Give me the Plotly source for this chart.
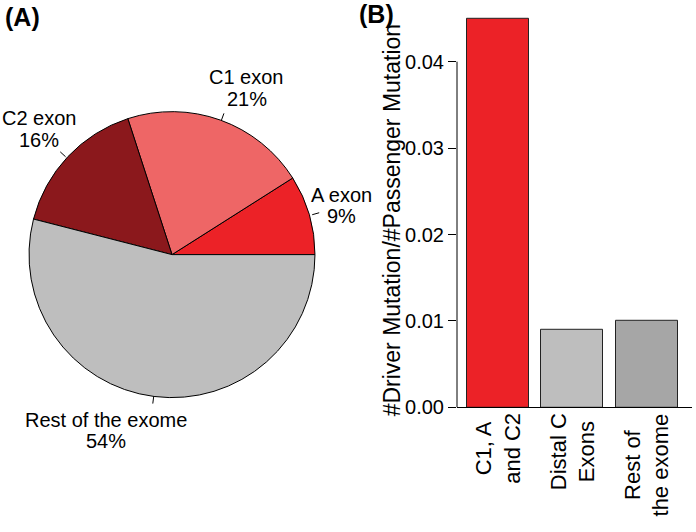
import math
import plotly.graph_objects as go

# ---------------- data ----------------
pie_labels = ["A exon", "C1 exon", "C2 exon", "Rest of the exome"]
pie_values = [9, 21, 16, 54]
pie_colors = ["#EC2227", "#EE6666", "#8B181C", "#BEBEBE"]

bar_categories = ["C1, A<br>and C2", "Distal C<br>Exons", "Rest of<br>the exome"]
bar_values = [0.045, 0.009, 0.010]
bar_colors = ["#EC2227", "#BEBEBE", "#A6A6A6"]

y_ticks = [0.00, 0.01, 0.02, 0.03, 0.04]
y_title = "#Driver Mutation/#Passenger Mutation"
panel_labels = ["(A)", "(B)"]

# ---------------- layout helpers ----------------
W, H = 696, 532
FONT = "Liberation Sans, Arial, Helvetica, sans-serif"


def px(x):
    return x / W


def py(y):
    return 1 - y / H


PIE_CX, PIE_CY, PIE_R = 172, 260, 146
# label block centres (pixels) for each pie slice
pie_label_pos = [(341, 210), (246.5, 90), (39, 131.5), (106, 439.5)]
LINE_GAP = 22

BAR_X0, BAR_X1, BAR_Y0, BAR_Y1 = 457, 692, 10, 416

total = sum(pie_values)

fig = go.Figure()

fig.add_trace(go.Pie(
    labels=pie_labels,
    values=pie_values,
    marker=dict(colors=pie_colors, line=dict(color="black", width=1)),
    sort=False,
    direction="counterclockwise",
    # first slice starts at 3 o'clock and runs counter-clockwise
    rotation=90 - pie_values[0] / total * 360,
    textinfo="none",
    hoverinfo="skip",
    showlegend=False,
    domain=dict(x=[px(PIE_CX - PIE_R), px(PIE_CX + PIE_R)],
                y=[py(PIE_CY + PIE_R), py(PIE_CY - PIE_R)]),
))

fig.add_trace(go.Bar(
    x=bar_categories,
    y=bar_values,
    width=0.834,
    marker=dict(color=bar_colors, line=dict(color="#222222", width=1)),
    hoverinfo="skip",
    showlegend=False,
))

shapes = []
annotations = []

# pie leader lines (from r to 1.05 r at each slice's mid angle) and labels
start = 0.0
for lab, val, (lx, ly) in zip(pie_labels, pie_values, pie_label_pos):
    frac = val / total
    mid = (start + frac / 2) * 2 * math.pi
    start += frac
    c, s = math.cos(mid), math.sin(mid)
    shapes.append(dict(
        type="line", xref="paper", yref="paper",
        x0=px(PIE_CX + PIE_R * c), y0=py(PIE_CY - PIE_R * s),
        x1=px(PIE_CX + 1.05 * PIE_R * c), y1=py(PIE_CY - 1.05 * PIE_R * s),
        line=dict(color="black", width=1),
    ))
    for txt, dy in ((lab, -LINE_GAP / 2), (f"{frac * 100:.0f}%", LINE_GAP / 2)):
        annotations.append(dict(
            text=txt, xref="paper", yref="paper",
            x=px(lx), y=py(ly + dy), xanchor="center", yanchor="middle",
            showarrow=False, font=dict(family=FONT, size=20, color="black"),
        ))

# bar category labels (rotated, centred lines)
for cat in bar_categories:
    annotations.append(dict(
        text=cat, xref="x", yref="paper", x=cat, y=py(420),
        xanchor="center", yanchor="top", textangle=-90, align="center",
        showarrow=False, font=dict(family=FONT, size=22, color="black"),
    ))

# y axis title
annotations.append(dict(
    text=y_title, xref="paper", yref="paper", x=px(392), y=py(225),
    xanchor="center", yanchor="middle", textangle=-90, showarrow=False,
    font=dict(family=FONT, size=23, color="black"),
))

# panel labels
for txt, (lx, ly) in zip(panel_labels, [(22, 17), (376, 14)]):
    annotations.append(dict(
        text=f"<b>{txt}</b>", xref="paper", yref="paper", x=px(lx), y=py(ly),
        xanchor="center", yanchor="middle", showarrow=False,
        font=dict(family=FONT, size=25, color="black"),
    ))

# y axis line spanning first to last tick
shapes.append(dict(
    type="line", xref="paper", yref="y",
    x0=px(BAR_X0), x1=px(BAR_X0), y0=min(y_ticks), y1=max(y_ticks),
    line=dict(color="black", width=1),
))

fig.update_layout(
    width=W, height=H,
    autosize=False,
    margin=dict(l=0, r=0, t=0, b=0),
    paper_bgcolor="white", plot_bgcolor="white",
    font=dict(family=FONT, color="black"),
    shapes=shapes,
    annotations=annotations,
    bargap=0,
    xaxis=dict(
        domain=[px(BAR_X0), px(BAR_X1)],
        range=[-0.552, 2.61],
        showticklabels=False, ticks="", showgrid=False, zeroline=False,
        showline=True, linecolor="black", linewidth=1,
        fixedrange=True,
    ),
    yaxis=dict(
        domain=[py(BAR_Y1), py(BAR_Y0)],
        range=[0, 0.046],
        tickvals=y_ticks,
        ticktext=[f"{v:.2f}" for v in y_ticks],
        ticks="outside", ticklen=8, tickwidth=1, tickcolor="black",
        tickfont=dict(family=FONT, size=20, color="black"),
        showgrid=False, zeroline=False, showline=False,
        fixedrange=True,
    ),
)

fig.write_html(
    "out.html",
    config={"displayModeBar": False},
    post_script=(
        "document.documentElement.style.margin='0';"
        "document.body.style.margin='0';"
        "document.documentElement.style.overflow='hidden';"
        "document.body.style.overflow='hidden';"
    ),
)
